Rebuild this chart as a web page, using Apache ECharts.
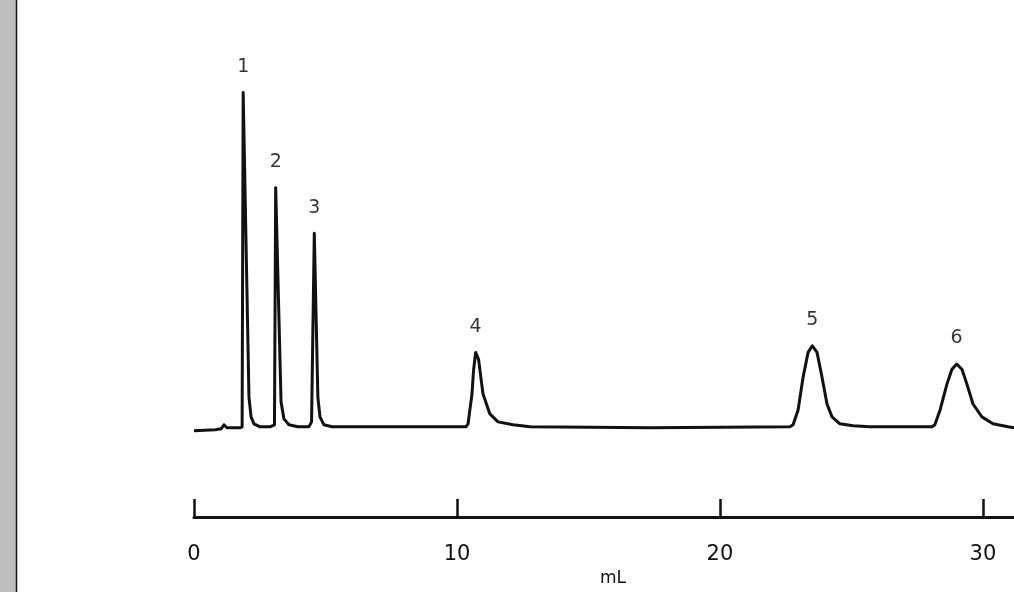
<!DOCTYPE html>
<html>
<head>
<meta charset="utf-8">
<style>
  html, body { margin: 0; padding: 0; background: #ffffff; overflow: hidden; }
  #chart { width: 1014px; height: 592px; }
</style>
<script src="https://cdn.jsdelivr.net/npm/echarts@6/dist/echarts.min.js"></script>
</head>
<body>
<div id="chart"></div>
<script>
// Elution volume (mL) of each point of the detector trace
const traceX = [
  0, 0.80, 1.03, 1.14, 1.25, 1.75, 1.83, 1.87, 2.09, 2.17, 2.28, 2.51,
  2.89, 3.06, 3.106, 3.31, 3.42, 3.61, 3.95,
  4.37, 4.47, 4.574, 4.71, 4.79, 4.94, 5.25,
  7.83, 10.34, 10.42, 10.57, 10.63, 10.71, 10.82, 10.99, 11.25, 11.56, 12.13, 12.78,
  17.34, 22.66, 22.78, 22.97, 23.16, 23.35, 23.51, 23.69, 23.88, 24.07, 24.26, 24.56, 25.06, 25.70,
  28.06, 28.17, 28.37, 28.63, 28.82, 29.00, 29.20, 29.39, 29.62, 29.96, 30.38, 30.95, 31.18
];
// Detector response (arbitrary units) at each point
const traceY = [
  87, 88, 89, 93, 90, 90, 91, 428, 121, 101, 94, 91,
  91, 93, 332, 116, 99, 93, 91,
  91, 96, 286, 121, 101, 93, 91,
  91, 91, 94, 124, 148, 166, 159, 124, 104, 96, 93, 91,
  90, 91, 93, 108, 141, 166, 172.7, 166, 141, 114, 101, 94, 92, 91,
  91, 93, 108, 134, 149, 154.3, 149, 134, 114, 101, 94, 91, 90
];
// Peak numbers, in elution order
const peakLabels = ['1', '2', '3', '4', '5', '6'];
// Axis tick labels
const xTicks = [0, 10, 20, 30];
const xName = 'mL';

const traceData = traceX.map((x, i) => [x, traceY[i]]);

// locate peak apexes (local maxima of the trace that stand well above baseline)
const apexIdx = [];
for (let i = 1; i < traceY.length - 1; i++) {
  if (traceY[i] > traceY[i - 1] && traceY[i] >= traceY[i + 1] && traceY[i] > 130) apexIdx.push(i);
}
const labelData = apexIdx.map((idx, k) => ({
  value: [traceX[idx], traceY[idx]],
  name: peakLabels[k]
}));

const chart = echarts.init(document.getElementById('chart'), null, { renderer: 'canvas', width: 1014, height: 592 });
const ink = '#111111';
chart.setOption({
  backgroundColor: '#ffffff',
  animation: false,
  grid: { left: 194, right: 0, top: 21, bottom: 71, containLabel: false },
  xAxis: {
    type: 'value',
    min: 0,
    max: 31.18,
    interval: 10,
    name: xName,
    nameLocation: 'middle',
    nameGap: 46,
    nameTextStyle: { fontFamily: 'DejaVu Sans', fontSize: 17, color: ink, padding: [0, 0, 0, 18] },
    axisLine: { show: true, lineStyle: { color: ink, width: 3 } },
    axisTick: { show: true, inside: true, length: 18, customValues: xTicks, lineStyle: { color: ink, width: 2.5 } },
    axisLabel: {
      show: true,
      margin: 27,
      customValues: xTicks,
      fontFamily: 'DejaVu Sans',
      fontSize: 21,
      color: ink
    },
    splitLine: { show: false }
  },
  yAxis: {
    type: 'value',
    min: 0,
    max: 500,
    show: false
  },
  series: [
    {
      type: 'line',
      data: traceData,
      showSymbol: false,
      symbol: 'none',
      lineStyle: { color: ink, width: 3, join: 'round' },
      z: 3
    },
    {
      type: 'scatter',
      data: labelData,
      symbolSize: 0,
      label: {
        show: true,
        position: 'top',
        distance: 16,
        formatter: p => p.name,
        fontFamily: 'DejaVu Sans',
        fontSize: 19,
        color: '#000000'
      },
      z: 4
    }
  ],
  graphic: [
    { type: 'rect', shape: { x: 0, y: 0, width: 16, height: 592 }, style: { fill: '#bebebe' } },
    { type: 'line', shape: { x1: 16.5, y1: 0, x2: 16.5, y2: 592 }, style: { stroke: '#111111', lineWidth: 1.5 } }
  ]
});
</script>
</body>
</html>
